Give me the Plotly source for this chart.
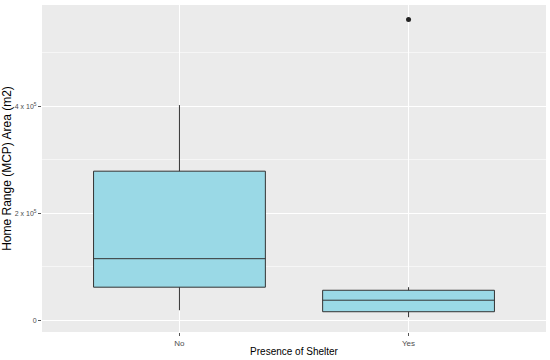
import plotly.graph_objects as go

categories = ["No", "Yes"]
q1 = [61700, 15900]
median = [115000, 37400]
q3 = [278500, 56000]
lower_whisker = [18700, 5600]
upper_whisker = [402000, 61700]
outlier_cat = ["Yes"]
outlier_val = [562000]
tick_vals = [0, 200000, 400000]
tick_text = ["0", "2 x 10<sup>5</sup>", "4 x 10<sup>5</sup>"]

fig = go.Figure()
fig.add_trace(go.Box(
    x=categories, q1=q1, median=median, q3=q3,
    lowerfence=lower_whisker, upperfence=upper_whisker,
    fillcolor="#9AD9E6", line=dict(color="#333333", width=1),
    whiskerwidth=0, boxpoints=False, showlegend=False, width=0.75,
))
fig.add_trace(go.Scatter(
    x=outlier_cat, y=outlier_val, mode="markers",
    marker=dict(color="#222222", size=5), showlegend=False,
))
fig.update_layout(
    width=550, height=360,
    margin=dict(l=42, r=4, t=5, b=28, autoexpand=False),
    paper_bgcolor="white", plot_bgcolor="#EBEBEB",
    font=dict(family="Liberation Sans, Arial, sans-serif"),
)
fig.update_xaxes(
    type="category", range=[-0.6, 1.6], automargin=False,
    showgrid=True, gridcolor="white", gridwidth=1.2,
    ticks="outside", ticklen=3, tickcolor="#555555",
    tickfont=dict(size=8, color="#4D4D4D"),
    title=dict(text="Presence of Shelter", font=dict(size=10, color="black"), standoff=1),
    zeroline=False, showline=False,
)
fig.update_yaxes(
    range=[-22000, 589000], automargin=False,
    tickvals=tick_vals, ticktext=tick_text,
    showgrid=True, gridcolor="white", gridwidth=1.2,
    minor=dict(tickvals=[100000, 300000, 500000], showgrid=True, gridcolor="#F6F6F6", gridwidth=0.6, ticks=""),
    ticks="outside", ticklen=3, tickcolor="#555555",
    tickfont=dict(size=7, color="#4D4D4D"),
    title=dict(text="Home Range (MCP) Area (m2)", font=dict(size=12, color="black"), standoff=1),
    zeroline=False, showline=False,
)
fig.write_html("out.html", config={"displayModeBar": False},
               post_script="document.body.style.margin='0';document.body.style.overflow='hidden';")
